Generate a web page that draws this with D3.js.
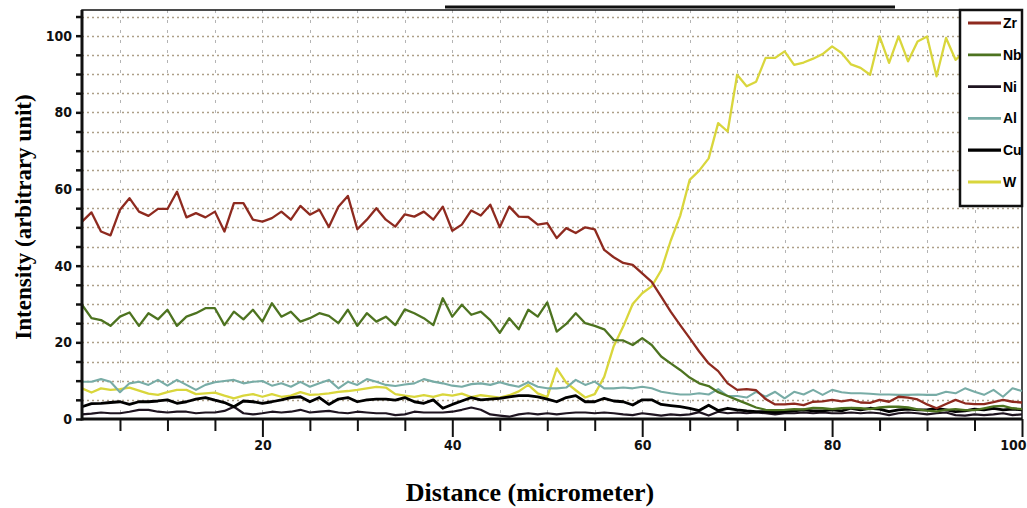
<!DOCTYPE html>
<html>
<head>
<meta charset="utf-8">
<script src="https://cdn.jsdelivr.net/npm/d3@7"></script>
<style>
	body{margin:0;background:#fff;}
	.tick text{font-family:"Liberation Sans Narrow","DejaVu Sans Condensed",sans-serif;font-weight:bold;font-size:14px;}
	.axis-title{font-family:"Liberation Serif","DejaVu Serif",serif;font-weight:bold;}
	.legend-text{font-family:"Liberation Sans Narrow",sans-serif;font-weight:bold;font-size:14px;}
</style>
</head>
<body>
<div id="chart"></div>
<script>
//line scan profile, one value per micrometer
var distance = new Array();
for(var i = 0;i < 100;i++){
	distance[i] = i+1;
}

var zr = [51.5,53.9,48.9,47.9,54.6,57.6,54.1,53.0,54.8,54.8,
	59.3,52.6,53.7,52.6,54.1,48.9,56.3,56.3,52.0,51.5,
	52.4,54.1,52.0,55.6,53.3,54.6,50.1,55.4,58.2,49.5,
	52.0,55.0,52.0,50.2,53.4,52.8,54.1,52.0,55.4,49.1,
	50.7,54.4,53.1,55.9,50.0,55.4,52.8,52.7,50.7,51.1,
	47.2,49.8,48.5,50.0,49.5,44.1,42.2,40.7,40.2,38.0,
	35.8,31.9,28.0,24.5,21.1,17.6,14.5,12.5,9.3,7.6,
	7.8,7.5,5.2,3.8,3.8,4.0,3.6,4.5,4.6,5.0,
	4.6,5.0,4.3,4.2,5.0,4.5,5.8,5.6,5.1,3.8,
	2.8,3.9,5.0,4.1,3.9,3.9,4.4,5.0,4.5,4.3];

var nb = [29.8,26.3,25.8,24.3,26.7,27.8,24.3,27.6,26.0,28.5,
	24.3,26.7,27.6,28.9,28.9,24.5,28.0,26.0,28.5,25.4,
	30.2,26.7,28.0,25.4,26.3,27.6,26.9,25.0,28.5,24.3,
	27.6,25.4,26.7,24.5,28.6,27.6,26.3,24.5,31.5,26.7,
	29.8,27.2,28.0,25.8,22.5,26.3,23.4,28.5,26.7,30.4,
	22.8,24.8,27.6,25.0,24.3,23.4,20.6,20.5,19.3,21.1,
	19.3,16.3,14.5,12.8,10.8,9.3,8.6,7.0,6.0,5.0,
	4.0,3.0,2.4,2.3,2.4,2.6,2.5,2.9,2.8,2.6,
	2.8,2.9,2.8,2.6,3.0,3.2,3.2,3.0,2.5,2.2,
	2.0,2.4,2.6,2.3,2.3,2.8,3.3,3.4,2.8,2.6];

var ni = [1.2,1.4,1.7,1.5,1.5,1.9,2.4,2.4,1.9,1.7,
	1.9,1.9,1.5,1.7,1.7,2.1,3.2,1.5,1.2,1.5,
	1.9,1.7,1.9,2.4,1.7,1.9,2.1,1.7,1.5,1.9,
	1.7,1.5,1.5,1.0,1.2,1.9,1.7,1.7,1.7,1.9,
	2.4,3.0,2.4,1.2,0.9,0.6,1.2,1.5,1.2,1.5,
	1.2,1.5,1.7,1.7,1.5,1.7,1.5,1.2,1.0,1.5,
	1.2,0.9,1.2,1.0,1.2,1.8,0.9,1.9,1.5,1.7,
	1.5,1.7,1.5,1.2,1.5,1.5,1.7,1.5,1.7,1.5,
	1.5,1.7,1.5,1.7,1.5,1.0,1.5,1.7,1.5,1.2,
	1.5,1.7,1.0,0.9,1.2,1.0,1.2,1.5,1.0,1.2];

var al = [9.7,9.7,10.4,9.7,7.0,9.3,9.7,8.9,10.2,8.7,
	10.2,8.9,7.6,8.9,9.6,9.9,10.2,9.3,9.7,9.9,
	8.7,9.3,8.4,9.7,8.4,9.3,10.2,8.0,9.7,8.9,
	10.4,9.7,8.9,8.6,9.0,9.3,10.4,9.75,9.3,8.7,
	8.4,9.1,9.3,8.9,9.6,8.9,8.4,9.6,8.4,8.0,
	8.0,8.2,10.2,8.9,9.75,8.0,8.0,8.2,8.0,8.4,
	8.0,7.1,6.7,6.4,6.4,6.7,6.4,7.8,6.0,6.0,
	5.6,7.1,5.8,7.1,5.4,7.1,6.4,7.6,6.3,7.6,
	7.0,6.7,6.7,6.6,6.4,6.4,6.3,6.3,6.4,6.3,
	6.3,7.1,6.7,8.0,7.1,6.3,7.6,5.8,8.0,7.3];

var cu = [3.2,4.0,4.1,4.3,4.5,3.8,4.5,4.5,4.7,5.0,
	4.1,4.5,5.2,5.6,4.9,4.3,3.2,4.7,4.5,4.1,
	4.5,5.0,5.6,5.8,4.5,5.6,3.8,5.2,5.6,4.5,
	5.0,5.2,5.2,4.9,5.6,4.5,4.1,5.0,2.8,3.8,
	4.7,5.6,5.0,5.2,5.4,5.8,6.1,6.1,5.8,5.2,
	4.5,5.6,6.1,4.5,4.5,5.4,4.7,4.5,3.65,5.0,
	5.0,3.8,3.5,3.2,2.8,2.2,3.6,2.2,2.8,2.4,
	2.1,1.9,1.9,1.7,1.9,2.1,2.4,2.1,2.1,2.4,
	2.1,2.8,2.4,2.8,2.6,1.9,2.4,2.6,2.4,2.4,
	2.8,2.4,1.9,2.1,2.6,2.4,2.8,2.4,2.6,2.4];

//W runs behind the legend box after 94
var w = [8.0,6.9,8.0,7.6,7.8,8.2,7.4,6.6,6.3,7.0,
	7.6,7.6,6.5,6.7,6.9,6.1,5.4,6.1,6.5,5.8,
	6.5,5.8,6.1,7.0,6.3,6.4,6.7,7.1,7.3,7.6,
	8.0,8.4,8.2,6.5,6.1,5.8,6.2,5.8,6.4,6.1,
	6.6,5.7,6.2,5.9,5.6,6.2,7.2,8.9,6.7,5.7,
	13.2,9.5,7.5,5.6,6.5,11.0,19.0,24.1,30.0,32.8,
	34.6,38.8,46.5,53.0,62.4,64.8,68.0,77.2,75.0,89.8,
	86.8,88.0,94.2,94.2,95.9,92.4,93.0,94.0,95.2,97.2,
	95.5,92.5,91.6,89.8,99.8,92.9,99.8,93.3,98.5,99.8,
	89.4,99.4,93.7,96.0];

var elements = ["Zr","Nb","Ni","Al","Cu","W"];
var colors = ["#8e2a1f","#4d7320","#1e1420","#78aca6","#000000","#d9d63c"];
var yTicks = [0,20,40,60,80,100];
var xTicks = [20,40,60,80,100];

function plotProfile(){
	var width = 1027;
	var height = 508;
	var left = 82, right = 1022, top = 10, bottom = 419;

	var xScale = d3.scaleLinear()
		.domain([1,100])
		.range([left,right]);

	var yScale = d3.scaleLinear()
		.domain([0,106.7])
		.range([bottom,top]);

	var svg = d3.select('#chart').append("svg")
		.attr("width",width)
		.attr("height",height);

	//grid
	var hGrid = d3.range(5,106,5);
	svg.append("g").selectAll("line")
		.data(hGrid).enter().append("line")
		.attr("x1",left).attr("x2",right)
		.attr("y1",function(d){ return Math.round(yScale(d))+0.5; })
		.attr("y2",function(d){ return Math.round(yScale(d))+0.5; })
		.attr("stroke","#ad9f88")
		.attr("stroke-width",1.5)
		.attr("stroke-dasharray","2,3");

	var vGrid = d3.range(5,100,5);
	svg.append("g").selectAll("line")
		.data(vGrid).enter().append("line")
		.attr("x1",function(d){ return Math.round(xScale(d))+0.5; })
		.attr("x2",function(d){ return Math.round(xScale(d))+0.5; })
		.attr("y1",top).attr("y2",bottom)
		.attr("stroke","#b4b4b4")
		.attr("stroke-width",1)
		.attr("stroke-dasharray","3,7");

	//frame
	svg.append("rect")
		.attr("x",left).attr("y",top)
		.attr("width",right-left).attr("height",bottom-top)
		.attr("fill","none")
		.attr("stroke","#111")
		.attr("stroke-width",1.5);
	svg.append("line")
		.attr("x1",445).attr("x2",895)
		.attr("y1",7).attr("y2",7)
		.attr("stroke","#111")
		.attr("stroke-width",3);

	//lines
	var lineGenerator = d3.line()
		.x(function(d,i){ return xScale(distance[i]); })
		.y(function(d){ return yScale(d); });

	var series = [zr,nb,ni,al,cu,w];
	var order = [5,3,2,4,1,0];
	var widths = [2.3,2.3,2.2,2.1,2.8,2.3];
	order.forEach(function(k){
		svg.append("path")
			.attr("d",lineGenerator(series[k]))
			.attr("fill","none")
			.attr("stroke",colors[k])
			.attr("stroke-width",widths[k])
			.attr("stroke-linejoin","round");
	});

	//axes
	var xAxis = d3.axisBottom(xScale)
		.tickValues(xTicks)
		.tickSize(18)
		.tickPadding(3)
		.tickFormat(d3.format("d"));
	var xMinor = d3.axisBottom(xScale)
		.tickValues(d3.range(5,100,5).filter(function(d){ return d % 20 != 0; }))
		.tickSize(12)
		.tickFormat("");

	var yAxis = d3.axisLeft(yScale)
		.tickValues(yTicks)
		.tickSize(6)
		.tickPadding(4);
	var yMinor = d3.axisLeft(yScale)
		.tickValues(d3.range(5,106,5).filter(function(d){ return d % 20 != 0; }))
		.tickSize(6)
		.tickFormat("");

	[xAxis,xMinor].forEach(function(a){
		var g = svg.append("g")
			.attr("transform","translate(0,"+bottom+")")
			.call(a);
		g.select(".domain").remove();
		g.selectAll(".tick line").attr("stroke","#111").attr("stroke-width",2);
	});
	[yAxis,yMinor].forEach(function(a){
		var g = svg.append("g")
			.attr("transform","translate("+left+",0)")
			.call(a);
		g.select(".domain").remove();
		g.selectAll(".tick line").attr("stroke","#111").attr("stroke-width",2.5);
	});
	svg.selectAll(".tick text").attr("fill","#111");
	//last label sits on the right edge, keep it inside the page
	svg.selectAll(".tick text")
		.filter(function(d){ return d == 100 && this.getAttribute("dy") == "0.71em"; })
		.attr("text-anchor","end")
		.attr("x",4);

	svg.append("line")
		.attr("x1",left).attr("x2",right)
		.attr("y1",bottom).attr("y2",bottom)
		.attr("stroke","#111").attr("stroke-width",3);
	svg.append("line")
		.attr("x1",left).attr("x2",left)
		.attr("y1",top).attr("y2",bottom+1.5)
		.attr("stroke","#111").attr("stroke-width",3);

	svg.append("text")
		.attr("class","axis-title")
		.attr("x",530)
		.attr("y",501)
		.attr("text-anchor","middle")
		.style("font-size","26px")
		.text("Distance (micrometer)");

	svg.append("text")
		.attr("class","axis-title")
		.attr("transform","translate(31,217) rotate(-90)")
		.attr("text-anchor","middle")
		.style("font-size","23px")
		.text("Intensity (arbitrary unit)");

	//legend
	var legend = svg.append("g");
	legend.append("rect")
		.attr("x",960).attr("y",10)
		.attr("width",62).attr("height",196)
		.attr("fill","#fff")
		.attr("stroke","#111")
		.attr("stroke-width",2.5);
	var item = legend.selectAll(".item")
		.data(elements).enter().append("g")
		.attr("transform",function(d,i){ return "translate(0,"+(23+i*31.8)+")"; });
	item.append("line")
		.attr("x1",968).attr("x2",1001)
		.attr("stroke",function(d,i){ return colors[i]; })
		.attr("stroke-width",function(d,i){ return widths[i]+0.5; });
	item.append("text")
		.attr("class","legend-text")
		.attr("x",1003)
		.attr("dy","0.35em")
		.text(function(d){ return d; });
}

plotProfile();
</script>
</body>
</html>
